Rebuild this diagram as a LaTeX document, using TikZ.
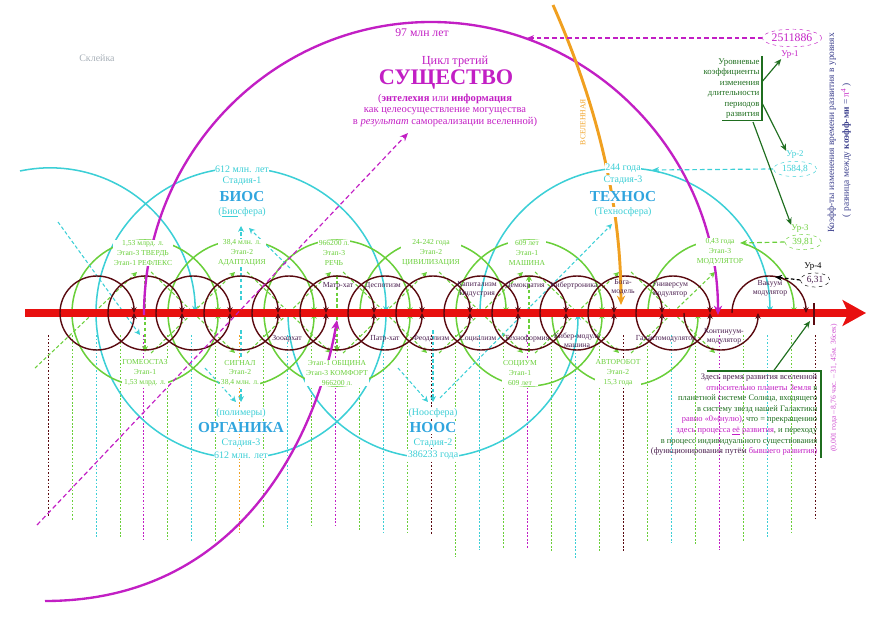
\documentclass[tikz,border=0pt]{standalone}
\usepackage{fontspec}
\setmainfont{Liberation Serif}
\usepackage{tikz}
\usetikzlibrary{arrows.meta,shapes.geometric,positioning}
\definecolor{axisred}{HTML}{E8100F}
\definecolor{circred}{HTML}{5A0A10}
\definecolor{lgreen}{HTML}{6ACF3A}
\definecolor{lcyan}{HTML}{3CCFD6}
\definecolor{magent}{HTML}{C21FC4}
\definecolor{orng}{HTML}{F0A020}
\definecolor{dgreen}{HTML}{1F6E1F}
\definecolor{plum}{HTML}{4A1E4E}
\definecolor{navy}{HTML}{3A3E8C}
\definecolor{grayish}{HTML}{A8B0B8}

\begin{document}
\begin{tikzpicture}[x=0.03cm, y=-0.03cm,
    darkcirc/.style={draw=circred, line width=1.2pt, -{Stealth[length=5pt,width=4.5pt]}},
    greenarc/.style={draw=lgreen, line width=1.3pt, -{Stealth[length=5pt,width=4.5pt]}},
    cyanarc/.style={draw=lcyan, line width=1.3pt},
    gdash/.style={draw=lgreen, line width=0.9pt, dash pattern=on 3pt off 2pt, -{Stealth[length=5pt,width=5pt]}},
    cdash/.style={draw=lcyan, line width=0.9pt, dash pattern=on 3pt off 2pt, -{Stealth[length=5pt,width=5pt]}},
    vdots/.style={line width=0.7pt, dash pattern=on 1.5pt off 1.5pt},
    glabel/.style={text=lgreen, fill=white, inner sep=0.6pt, align=center, font=\fontsize{6.5}{8.4}\selectfont},
    slabel/.style={text=lcyan, fill=white, inner sep=0.6pt, font=\fontsize{8.5}{10}\selectfont},
    sname/.style={text=lcyan!80!blue, fill=white, inner sep=0.6pt, font=\fontsize{13}{15}\selectfont\bfseries},
    clabel/.style={text=plum, inner sep=0pt, align=center, font=\fontsize{6.6}{7.6}\selectfont},
    ellval/.style={ellipse, dashed, inner sep=0.5pt, font=\fontsize{8}{8}\selectfont},
    urlbl/.style={inner sep=0pt, font=\fontsize{7.5}{8}\selectfont},
    dgarrow/.style={draw=dgreen, line width=1pt, -{Stealth[length=6pt,width=5pt]}}
  ]
    \useasboundingbox (0,0) rectangle (888,622);

    % vertical dotted lines under the axis
    \foreach \k/\col/\yend in {0/circred/517, 1/lgreen/520, 2/lcyan/537, 3/lgreen/537,
        4/magent/539, 5/lgreen/539, 6/lcyan/542, 7/lgreen/542, 8/orng/532, 9/lgreen/527,
        10/lcyan/529, 11/lgreen/525, 12/magent/525, 13/lgreen/530, 14/lcyan/533, 15/lgreen/533,
        16/circred/534, 17/lgreen/557, 18/lcyan/550, 19/lgreen/548, 20/magent/548, 21/lgreen/552,
        22/lcyan/558, 23/lgreen/551, 24/circred/551, 25/lgreen/541, 26/lcyan/543, 27/lgreen/545,
        28/magent/550, 29/lgreen/542, 30/lcyan/537, 31/lgreen/533, 32/circred/519} {
        \pgfmathsetmacro\vx{48+23.97*\k}
        \draw[vdots, draw=\col] (\vx,335) -- (\vx,\yend);
    }

    % big cyan arcs (stages)
    \draw[cyanarc, -{Stealth[length=6pt,width=5pt]}] (20,171) arc[start angle=258, end angle=360, radius=145];
    \draw[cyanarc, -{Stealth[length=6pt,width=5pt]}] (96,313) arc[start angle=180, end angle=360, radius=145];
    \draw[cyanarc] (96,313) arc[start angle=180, end angle=0, radius=145];
    \draw[cyanarc, -{Stealth[length=6pt,width=5pt]}] (288,313) arc[start angle=180, end angle=0, radius=145];
    \draw[cyanarc, -{Stealth[length=6pt,width=5pt]}] (480,313) arc[start angle=180, end angle=360, radius=145];

    % green arcs (stages of development)
    \foreach \cx in {145,241,337,433,529,721}
        \draw[greenarc] (\cx-73,313) arc[start angle=180, end angle=360, radius=73];
    \foreach \cx in {145,241,337,529,625}
        \draw[greenarc] (\cx-73,313) arc[start angle=180, end angle=0, radius=73];

    % dashed chevrons between labels
    \draw[gdash] (35,368) -- (137,272);
    \foreach \cx in {145,241,337,433,529,625} {
        \draw[gdash] (\cx+6,272) -- (\cx+90,353);
        \draw[gdash] (\cx+6,353) -- (\cx+90,272);
    }
    \draw[gdash] (145,275) -- (145,352);
    \draw[gdash] (337,275) -- (337,352);
    \draw[gdash] (529,352) -- (529,275);
    \draw[cdash] (241,300) -- (241,226);
    \draw[cdash] (290,268) -- (249,228);
    \draw[cdash] (241,330) -- (241,402);
    \draw[cdash] (205,368) -- (236,402);
    \draw[cdash] (433,330) -- (433,402);
    \draw[cdash] (398,368) -- (428,402);
    \draw[cdash] (440,398) -- (612,224);
    \draw[cdash] (58,222) -- (140,335);

    % main axis
    \coordinate (axstart) at (25,313);
    \coordinate (axend) at (866,313);
    \draw[axisred, line width=6pt, -{Stealth[length=20pt,width=22pt,inset=5pt]}] (axstart) -- (axend);
    \draw[circred, line width=1pt] (814,303) -- (814,325);

    % circles along the axis
    \foreach \i in {0,...,14} {
        \pgfmathsetmacro\cx{97+48*\i}
        \ifnum\i=13\else
            \draw[darkcirc] (\cx-37,313) arc[start angle=180, end angle=360, radius=37];
        \fi
        \ifnum\i=14\else
            \draw[darkcirc] (\cx-37,313) arc[start angle=180, end angle=0, radius=37];
        \fi
    }

    % magenta cycle
    \draw[magent, line width=2pt, -{Stealth[length=8pt,width=7pt]}] (144,315) arc[start angle=180, end angle=360, x radius=287, y radius=293];
    \draw[magent, line width=2pt, -{Stealth[length=8pt,width=7pt]}] (45,601) .. controls (250,601) and (320,420) .. (337,320);
    \draw[magent, line width=1pt, dash pattern=on 4pt off 2.5pt, -{Stealth[length=7pt,width=6pt]}] (37,525) -- (408,133);

    % universe line
    \draw[orng, line width=2.5pt, -{Stealth[length=8pt,width=7pt]}] (553,5) .. controls (595,100) and (621,200) .. (621,305);
    \node[text=orng, rotate=90, inner sep=0pt, font=\fontsize{6.5}{7}\selectfont] (universe) at (583,122) {ВСЕЛЕННАЯ};

    % labels in the circles
    \node[clabel] (matr) at (338,286) {Матр-хат};
    \node[clabel] (despot) at (383,286) {Деспотизм};
    \node[clabel] (capital) at (477,289) {Капитализм\\Индустрия};
    \node[clabel] (democr) at (525,286) {Демократия};
    \node[clabel] (cybertr) at (574,286) {Кибертроника};
    \node[clabel] (godmod) at (623,287) {Бога-\\модель};
    \node[clabel] (univmod) at (670,289) {Универсум\\модулятор};
    \node[clabel] (vacmod) at (770,288) {Вакуум\\модулятор};
    \node[clabel] (zooarch) at (287,339) {Зооархат};
    \node[clabel] (patr) at (385,339) {Патр-хат};
    \node[clabel] (feodal) at (431,339) {Феодализм};
    \node[clabel] (social) at (478,339) {Социализм};
    \node[clabel] (techno) at (527,339) {Техноформия};
    \node[clabel] (cybmod) at (577,340) {Кибер-модуль\\машина};
    \node[clabel] (galmod) at (666,339) {Галактомодулятор};
    \node[clabel] (contmod) at (724,336) {Континуум-\\модулятор};

    % green stage labels
    \node[glabel] (tverd) at (143,253) {1,53 млрд. л.\\Этап-3 ТВЕРДЬ\\Этап-1 РЕФЛЕКС};
    \node[glabel] (adapt) at (242,253) {38,4 млн. л.\\Этап-2\\АДАПТАЦИЯ};
    \node[glabel] (speech) at (334,253) {966200 л.\\Этап-3\\РЕЧЬ};
    \node[glabel] (civil) at (431,253) {24-242 года\\Этап-2\\ЦИВИЛИЗАЦИЯ};
    \node[glabel] (machine) at (527,253) {609 лет\\Этап-1\\МАШИНА};
    \node[glabel] (modul) at (720,252) {0,43 года\\Этап-3\\МОДУЛЯТОР};
    \node[glabel] (homeo) at (145,373) {ГОМЕОСТАЗ\\Этап-1\\1,53 млрд. л.};
    \node[glabel] (signal) at (240,373) {СИГНАЛ\\Этап-2\\38,4 млн. л.};
    \node[glabel] (commune) at (337,373) {Этап-1 ОБЩИНА\\Этап-3 КОМФОРТ\\966200 л.};
    \node[glabel] (socium) at (520,373) {СОЦИУМ\\Этап-1\\609 лет};
    \node[glabel] (autorob) at (618,373) {АВТОРОБОТ\\Этап-2\\15,3 года};

    % cyan stage names
    \node[slabel] (biostime) at (242,169) {612 млн. лет};
    \node[slabel] (biosstage) at (242,181) {Стадия-1};
    \node[sname] (bios) at (242,197) {БИОС};
    \node[slabel] (biosph) at (242,212) {(\underline{Био}сфера)};
    \node[slabel] (technotime) at (623,168) {244 года};
    \node[slabel] (technostage) at (623,180) {Стадия-3};
    \node[sname] (technos) at (623,197) {ТЕХНОС};
    \node[slabel] (technosph) at (623,212) {(Техносфера)};
    \node[slabel] (polymer) at (241,413) {(полимеры)};
    \node[sname] (organic) at (241,428) {ОРГАНИКА};
    \node[slabel] (orgstage) at (241,443) {Стадия-3};
    \node[slabel] (orgtime) at (241,455) {612 млн. лет};
    \node[slabel] (noosph) at (433,413) {(Ноосфера)};
    \node[sname] (noos) at (433,428) {НООС};
    \node[slabel] (noosstage) at (433,443) {Стадия-2};
    \node[slabel] (noostime) at (433,455) {386233 года};

    % third cycle
    \node[text=magent, font=\fontsize{10}{12}\selectfont] (mlnyears) at (422,33) {97 млн лет};
    \node[text=magent, font=\fontsize{10.5}{12}\selectfont] (cyclename) at (455,62) {Цикл третий};
    \node[text=magent, font=\fontsize{19}{22}\selectfont\bfseries] (essence) at (446,80) {СУЩЕСТВО};
    \node[text=magent, align=center, font=\fontsize{9}{9.8}\selectfont] (entelechy) at (445,110)
        {(\textbf{энтелехия} или \textbf{информация}\\как целеосуществление могущества\\в \textit{результат} самореализации вселенной)};
    \node[text=grayish, font=\fontsize{8.5}{9}\selectfont] (glue) at (97,58) {Склейка};

    % level coefficients
    \node[ellval, draw=magent, text=magent, minimum width=47pt, minimum height=15pt, font=\fontsize{10}{10}\selectfont] (ur1val) at (792,38) {2511886};
    \node[urlbl, text=magent] (ur1lbl) at (790,55) {Ур-1};
    \node[ellval, draw=lcyan, text=lcyan, minimum width=37pt, minimum height=13pt] (ur2val) at (795,169) {1584,8};
    \node[urlbl, text=lcyan] (ur2lbl) at (795,155) {Ур-2};
    \node[ellval, draw=lgreen, text=lgreen, minimum width=31pt, minimum height=13pt] (ur3val) at (803,242) {39,81};
    \node[urlbl, text=lgreen] (ur3lbl) at (800,229) {Ур-3};
    \node[ellval, draw=black, text=plum, minimum width=25pt, minimum height=12pt] (ur4val) at (815,280) {6,31};
    \node[urlbl, text=black] (ur4lbl) at (813,267) {Ур-4};

    \coordinate (magtgt) at (527,38);
    \coordinate (cyntgt) at (652,170);
    \coordinate (grntgt) at (740,243);
    \coordinate (blktgt) at (775,277);
    \draw[magent, line width=1pt, dash pattern=on 4pt off 2.5pt, -{Stealth[length=6pt,width=5pt]}] (ur1val.west) -- (magtgt);
    \draw[lcyan, line width=1pt, dash pattern=on 4pt off 2.5pt, -{Stealth[length=6pt,width=5pt]}] (ur2val.west) -- (cyntgt);
    \draw[lgreen, line width=1pt, dash pattern=on 4pt off 2.5pt, -{Stealth[length=6pt,width=5pt]}] (ur3val.west) -- (grntgt);
    \draw[black, line width=1pt, dash pattern=on 3pt off 2pt, -{Stealth[length=6pt,width=5pt]}] (ur4val.west) -- (blktgt);

    \node[text=dgreen, align=right, anchor=north east, inner sep=2pt, font=\fontsize{7.5}{8.9}\selectfont] (ucoef) at (762,56)
        {Уровневые\\коэффициенты\\изменения\\длительности\\периодов\\развития};
    \draw[dgreen, line width=1pt] (ucoef.north east) -- (ucoef.south east) -- ++(-40,0);
    \draw[dgarrow] ([yshift=-22pt]ucoef.north east) -- (ur1lbl.south west);
    \draw[dgarrow] ([yshift=-40pt]ucoef.north east) -- (ur2lbl.north west);
    \coordinate (u3start) at (753,122);
    \draw[dgarrow] (u3start) -- (ur3lbl.north west);

    % note at the end of the axis
    \node[align=right, anchor=north east, inner xsep=3pt, inner ysep=2pt, text=dgreen, font=\fontsize{7.2}{9.1}\selectfont] (herebox) at (821,371)
        {\textcolor{plum}{Здесь время развития вселенной}\\
         \textcolor{magent}{относительно планеты Земля} в\\
         планетной системе Солнца, входящего\\
         в систему звезд нашей Галактики\\
         \textcolor{magent}{равно «0»(нулю)}, что = прекращению\\
         \textcolor{magent}{здесь процесса \underline{её} развития}, и переходу\\
         в процесс индивидуального существования\\
         \textcolor{plum}{(функционирования путём} \textcolor{magent}{бывшего развития)}};
    \draw[dgreen, line width=1pt] (herebox.north east) ++(-114,0) -- (herebox.north east) -- (herebox.south east);
    \coordinate (tickend) at (810,321);
    \draw[dgarrow] ([xshift=8pt]herebox.north) ++(30,0) -- (tickend);

    % side captions
    \node[text=navy, rotate=90, inner sep=0pt, font=\fontsize{8}{9}\selectfont] (coefcap) at (832,133) {Коэфф-ты изменения времени развития в уровнях};
    \node[text=navy, rotate=90, inner sep=0pt, font=\fontsize{8}{9}\selectfont] (diffcap) at (846,150) {( разница между \textbf{коэфф-ми} = \textcolor{magent}{π\textsuperscript{4}} )};
    \node[text=magent!80, rotate=90, inner sep=0pt, font=\fontsize{6.5}{7}\selectfont] (timecap) at (834,388) {(0,001 года – 8,76 час. – 31, 45м. 36сек)};
\end{tikzpicture}
\end{document}
